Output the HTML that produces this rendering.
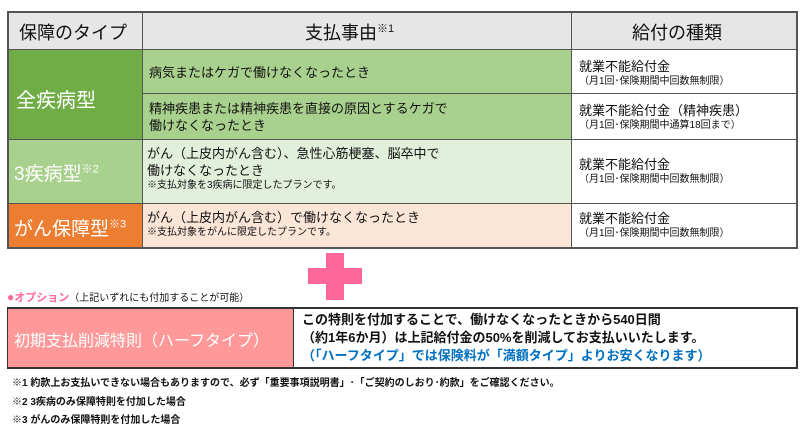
<!DOCTYPE html>
<html><head><meta charset="utf-8"><style>
*{margin:0;padding:0;box-sizing:border-box}
body{width:800px;height:434px;background:#fff;font-family:"Liberation Sans","Noto Sans CJK JP",sans-serif;color:#111;position:relative;overflow:hidden}
.a{position:absolute}
.c{position:absolute;border:1px solid #555}
.t13{font-size:13px;line-height:17px}
.t10{font-size:10px;line-height:13px}
</style></head><body>
<!-- header -->
<div class="c" style="left:7px;top:11px;width:136px;height:39px;background:#e6e6e6;border-width:2px 1px 1px 2px"></div>
<div class="c" style="left:142px;top:11px;width:430px;height:39px;background:#e6e6e6;border-width:2px 1px 1px 1px"></div>
<div class="c" style="left:571px;top:11px;width:227px;height:39px;background:#e6e6e6;border-width:2px 2px 1px 1px"></div>
<div class="a" style="left:19px;top:19px;font-size:18px">保障のタイプ</div>
<div class="a" style="left:305px;top:19px;font-size:18px">支払事由<sup style="font-size:11px">※1</sup></div>
<div class="a" style="left:632px;top:19px;font-size:18px">給付の種類</div>
<!-- row 1/2 -->
<div class="c" style="left:7px;top:49px;width:136px;height:91px;background:#70ad47;border-left-width:2px"></div>
<div class="a" style="left:16px;top:84px;font-size:20px;color:#fff">全疾病型</div>
<div class="c" style="left:142px;top:49px;width:430px;height:45px;background:#a9d18e"></div>
<div class="c" style="left:142px;top:93px;width:430px;height:47px;background:#a9d18e"></div>
<div class="c" style="left:571px;top:49px;width:227px;height:45px;background:#fff;border-right-width:2px"></div>
<div class="c" style="left:571px;top:93px;width:227px;height:47px;background:#fff;border-right-width:2px"></div>
<div class="a t13" style="left:149px;top:64px">病気またはケガで働けなくなったとき</div>
<div class="a t13" style="left:149px;top:100px">精神疾患または精神疾患を直接の原因とするケガで<br>働けなくなったとき</div>
<div class="a" style="left:579px;top:58px"><div class="t13">就業不能給付金</div><div class="t10">（月1回･保険期間中回数無制限）</div></div>
<div class="a" style="left:579px;top:102px"><div class="t13">就業不能給付金（精神疾患）</div><div class="t10">（月1回･保険期間中通算18回まで）</div></div>
<!-- row 3 -->
<div class="c" style="left:7px;top:139px;width:136px;height:65px;background:#a9d18e;border-left-width:2px"></div>
<div class="a" style="left:14px;top:159px;font-size:19px;color:#fff">3疾病型<sup style="font-size:11px">※2</sup></div>
<div class="c" style="left:142px;top:139px;width:430px;height:65px;background:#e2efda"></div>
<div class="c" style="left:571px;top:139px;width:227px;height:65px;background:#fff;border-right-width:2px"></div>
<div class="a" style="left:147px;top:145px"><div class="t13">がん（上皮内がん含む）、急性心筋梗塞、脳卒中で<br>働けなくなったとき</div><div class="t10">※支払対象を3疾病に限定したプランです。</div></div>
<div class="a" style="left:579px;top:156px"><div class="t13">就業不能給付金</div><div class="t10">（月1回･保険期間中回数無制限）</div></div>
<!-- row 4 -->
<div class="c" style="left:7px;top:203px;width:136px;height:46px;background:#ed7d31;border-width:1px 1px 2px 2px"></div>
<div class="a" style="left:14px;top:214px;font-size:19px;color:#fff">がん保障型<sup style="font-size:11px">※3</sup></div>
<div class="c" style="left:142px;top:203px;width:430px;height:46px;background:#fbe5d6;border-bottom-width:2px"></div>
<div class="c" style="left:571px;top:203px;width:227px;height:46px;background:#fff;border-width:1px 2px 2px 1px"></div>
<div class="a" style="left:147px;top:209px"><div class="t13">がん（上皮内がん含む）で働けなくなったとき</div><div class="t10">※支払対象をがんに限定したプランです。</div></div>
<div class="a" style="left:579px;top:210px"><div class="t13">就業不能給付金</div><div class="t10">（月1回･保険期間中回数無制限）</div></div>
<!-- plus -->
<div class="a" style="left:308px;top:268px;width:54px;height:16px;background:#ff6699"></div>
<div class="a" style="left:326px;top:253px;width:18px;height:47px;background:#ff6699"></div>
<!-- option -->
<div class="a" style="left:7px;top:289px;font-size:11px;color:#ff6699"><span style="font-size:12px">●</span><b>オプション</b><span style="color:#111;font-size:10px">（上記いずれにも付加することが可能）</span></div>
<div class="a" style="left:7px;top:307px;width:791px;height:62px;border:1px solid #333;border-width:2px 2px 2px 1px"></div>
<div class="a" style="left:8px;top:309px;width:286px;height:58px;background:#ff9999;border-right:1px solid #333"></div>
<div class="a" style="left:14px;top:327px;font-size:16px;color:#fff">初期支払削減特則（ハーフタイプ）</div>
<div class="a t13" style="left:302px;top:311px;font-weight:bold;line-height:18px">この特則を付加することで、働けなくなったときから540日間<br>（約1年6か月）は上記給付金の50%を削減してお支払いいたします。<br><span style="color:#0070c0">（「ハーフタイプ」では保険料が「満額タイプ」よりお安くなります）</span></div>
<!-- footnotes -->
<div class="a" style="left:12px;top:375px;font-size:10px;font-weight:bold;line-height:18.5px">※1 約款上お支払いできない場合もありますので、必ず「重要事項説明書」･「ご契約のしおり･約款」をご確認ください。<br>※2 3疾病のみ保障特則を付加した場合<br>※3 がんのみ保障特則を付加した場合</div>
</body></html>
